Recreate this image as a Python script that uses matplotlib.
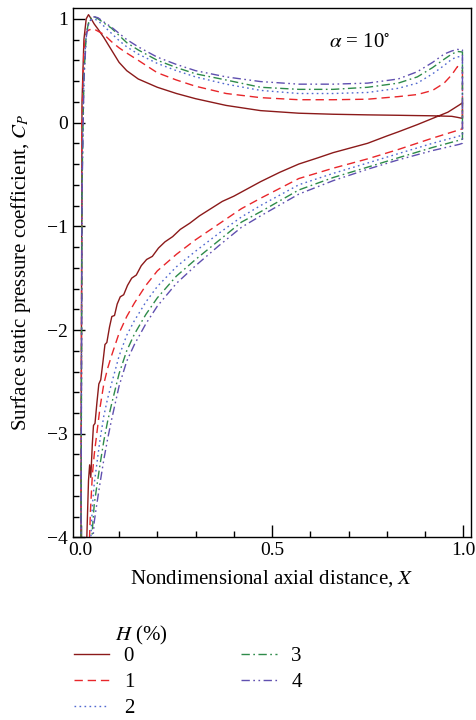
import matplotlib
matplotlib.use("Agg")
import matplotlib.pyplot as plt
from matplotlib.ticker import MultipleLocator

plt.rcParams['font.family'] = ['Liberation Serif', 'DejaVu Serif']
plt.rcParams['mathtext.fontset'] = 'stix'

# pressure side (upper branch), shared x grid
x_ps = [0.0, 0.003, 0.008, 0.014, 0.02, 0.027, 0.035, 0.045, 0.06, 0.08, 0.1, 0.12, 0.15,
        0.2, 0.25, 0.3, 0.38, 0.47, 0.57, 0.66, 0.75, 0.83, 0.88, 0.92, 0.95, 0.97, 0.985, 0.998]
cp_ps_h0 = [-4.5, 0.2, 0.8, 1.0, 1.04, 1.0, 0.95, 0.9, 0.82, 0.7, 0.58, 0.5, 0.42,
            0.34, 0.28, 0.23, 0.165, 0.115, 0.09, 0.08, 0.074, 0.07, 0.067, 0.065, 0.062, 0.06, 0.05, 0.04]
cp_ps_h1 = [-4.5, 0.0, 0.7, 0.87, 0.89, 0.9, 0.9, 0.88, 0.85, 0.78, 0.72, 0.67, 0.6,
            0.48, 0.41, 0.35, 0.28, 0.24, 0.22, 0.22, 0.225, 0.25, 0.27, 0.31, 0.38, 0.46, 0.54, 0.5]
cp_ps_h2 = [-4.5, -0.5, 0.5, 0.85, 0.95, 0.99, 1.0, 0.98, 0.93, 0.86, 0.79, 0.73, 0.66,
            0.57, 0.5, 0.44, 0.37, 0.31, 0.28, 0.28, 0.29, 0.33, 0.38, 0.47, 0.55, 0.61, 0.635, 0.63]
cp_ps_h3 = [-4.5, -0.6, 0.45, 0.85, 0.96, 1.01, 1.02, 1.0, 0.96, 0.91, 0.84, 0.77, 0.7,
            0.6, 0.53, 0.47, 0.41, 0.34, 0.32, 0.32, 0.34, 0.38, 0.44, 0.53, 0.61, 0.66, 0.685, 0.68]
cp_ps_h4 = [-4.5, -0.7, 0.4, 0.82, 0.95, 1.0, 1.02, 1.01, 0.97, 0.92, 0.86, 0.8, 0.73,
            0.63, 0.56, 0.5, 0.44, 0.395, 0.37, 0.37, 0.38, 0.42, 0.49, 0.58, 0.66, 0.69, 0.705, 0.7]

# suction side (lower branch); H = 0 has its own finer grid (wavy curve)
x_ss_h0 = [0.012, 0.016, 0.02, 0.023, 0.026, 0.03, 0.033, 0.037, 0.042, 0.047, 0.052, 0.058, 0.063,
           0.068, 0.075, 0.081, 0.088, 0.095, 0.103, 0.112, 0.122, 0.133, 0.145, 0.158, 0.172, 0.187,
           0.203, 0.22, 0.24, 0.26, 0.285, 0.31, 0.34, 0.37, 0.4, 0.44, 0.47, 0.52, 0.57, 0.62, 0.66,
           0.7, 0.75, 0.8, 0.83, 0.88, 0.92, 0.96, 0.99, 0.998]
cp_ss_h0 = [-4.5, -3.95, -3.45, -3.3, -3.42, -3.1, -2.92, -2.9, -2.7, -2.52, -2.48, -2.3, -2.14,
            -2.12, -1.97, -1.87, -1.86, -1.75, -1.68, -1.66, -1.57, -1.5, -1.47, -1.38, -1.32, -1.29,
            -1.21, -1.15, -1.1, -1.03, -0.97, -0.9, -0.83, -0.76, -0.71, -0.63, -0.57, -0.48, -0.4, -0.34,
            -0.29, -0.25, -0.2, -0.13, -0.09, -0.02, 0.04, 0.1, 0.17, 0.19]

x_ss = [0.012, 0.016, 0.02, 0.025, 0.03, 0.035, 0.04, 0.05, 0.06, 0.07, 0.08, 0.1, 0.12, 0.14,
        0.17, 0.2, 0.25, 0.3, 0.36, 0.42, 0.47, 0.57, 0.66, 0.75, 0.83, 0.92, 0.99, 0.998]
cp_ss_h1 = [-5.5, -5.0, -4.3, -3.75, -3.4, -3.2, -3.05, -2.75, -2.52, -2.37, -2.25, -2.03, -1.87, -1.74,
            -1.57, -1.43, -1.27, -1.13, -0.98, -0.83, -0.73, -0.54, -0.44, -0.35, -0.26, -0.15, -0.07, -0.06]
cp_ss_h2 = [-5.7, -5.25, -4.7, -4.1, -3.7, -3.48, -3.34, -3.06, -2.83, -2.66, -2.52, -2.25, -2.05, -1.91,
            -1.73, -1.58, -1.39, -1.24, -1.07, -0.91, -0.8, -0.6, -0.49, -0.39, -0.3, -0.2, -0.13, -0.12]
cp_ss_h3 = [-5.9, -5.45, -5.0, -4.4, -3.93, -3.68, -3.55, -3.3, -3.07, -2.88, -2.72, -2.42, -2.2, -2.04,
            -1.85, -1.69, -1.48, -1.32, -1.14, -0.96, -0.86, -0.65, -0.53, -0.43, -0.34, -0.24, -0.17, -0.16]
cp_ss_h4 = [-6.0, -5.6, -5.2, -4.6, -4.1, -3.85, -3.72, -3.48, -3.25, -3.05, -2.87, -2.54, -2.3, -2.14,
            -1.94, -1.77, -1.55, -1.38, -1.19, -1.01, -0.9, -0.69, -0.56, -0.45, -0.36, -0.27, -0.21, -0.2]

labels = ['0', '1', '2', '3', '4']
cp_ps = [cp_ps_h0, cp_ps_h1, cp_ps_h2, cp_ps_h3, cp_ps_h4]
x_ss_all = [x_ss_h0, x_ss, x_ss, x_ss, x_ss]
cp_ss = [cp_ss_h0, cp_ss_h1, cp_ss_h2, cp_ss_h3, cp_ss_h4]

colors = ['#8b1a1a', '#e8262a', '#5068d0', '#2e8b4a', '#6050b0']
dashes = [(None, None), (6, 3.5), (1.2, 2.4), (6, 2.5, 1.2, 2.5), (6, 2.5, 1.2, 2.5, 1.2, 2.5)]

fig = plt.figure(figsize=(4.76, 7.2), dpi=100)
ax = fig.add_axes([0.153, 0.2535, 0.837, 0.7355])

for i in range(5):
    # closed loop: pressure side to trailing edge, then suction side back to leading edge
    xs = x_ps + x_ss_all[i][::-1]
    ys = cp_ps[i] + cp_ss[i][::-1]
    line, = ax.plot(xs, ys, color=colors[i], lw=1.0, label=labels[i])
    if i > 0:
        line.set_dashes(dashes[i])

ax.set_xlim(-0.021, 1.021)
ax.set_ylim(-4, 1.105)
ax.xaxis.set_major_locator(MultipleLocator(0.5))
ax.xaxis.set_minor_locator(MultipleLocator(0.1))
ax.yaxis.set_major_locator(MultipleLocator(1))
ax.yaxis.set_minor_locator(MultipleLocator(0.2))
ax.xaxis.set_major_formatter(plt.FormatStrFormatter('%.1f'))
ax.tick_params(which='both', direction='in', labelsize=14, width=1.0)
ax.tick_params(which='major', length=8.5)
ax.tick_params(which='minor', length=4.3)
for s in ax.spines.values():
    s.set_linewidth(1.0)

ax.set_xlabel('Nondimensional axial distance, $X$', fontsize=15, labelpad=6)
ax.set_ylabel('Surface static pressure coefficient, $C_P$', fontsize=15, labelpad=10)
ax.text(0.65, 0.77, r'$\alpha$ = 10$^{\circ}$', fontsize=15, va='center')

fig.text(0.242, 0.117, '$H$ (%)', fontsize=15, va='center')
fig.legend(loc='upper left', bbox_to_anchor=(0.133, 0.116), ncol=2, frameon=False,
           fontsize=15, handlelength=1.7, handletextpad=0.7, columnspacing=5.15,
           labelspacing=0.3, borderpad=0.0)

fig.savefig('out.png', dpi=100)
